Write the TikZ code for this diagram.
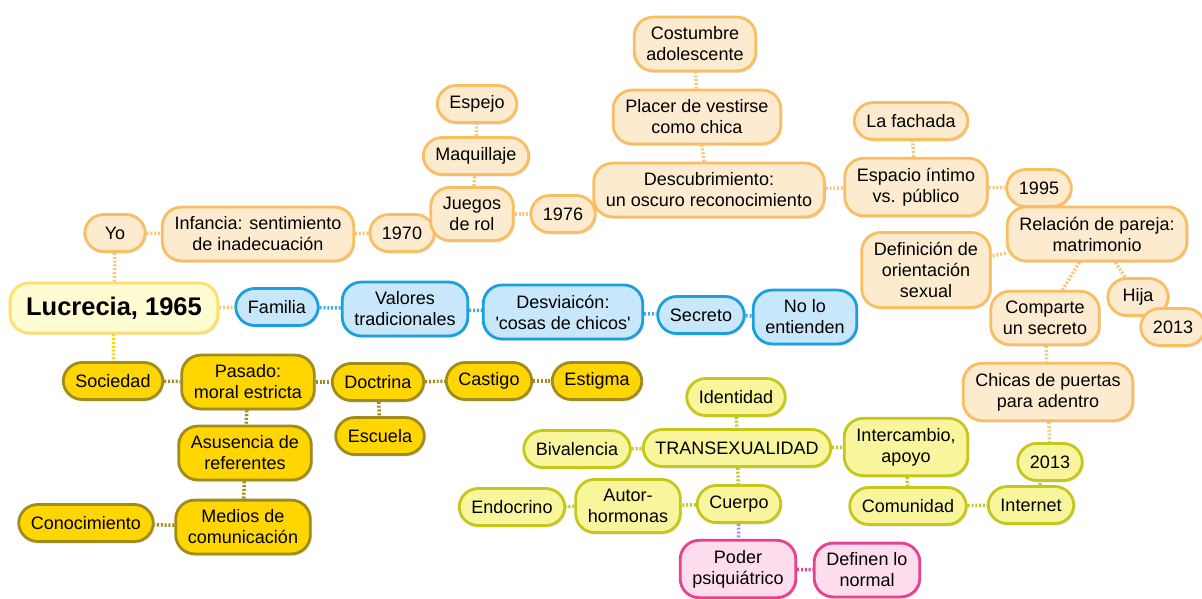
\documentclass[tikz,border=0pt]{standalone}
\usepackage{fontspec}
\setmainfont{Liberation Sans}
\usetikzlibrary{shadows}
\pgfdeclarelayer{fondo}
\pgfdeclarelayer{enlaces}
\pgfsetlayers{fondo,enlaces,main}

\begin{document}
			\begin{tikzpicture}[x=1pt,y=-1pt,
				nodo/.style={rounded corners=19pt,line width=2.8pt,align=center,inner xsep=12.3pt,inner ysep=9.8pt,
					minimum height=37pt,minimum width=60.5pt,font=\fontsize{18}{21}\selectfont,
					drop shadow={opacity=0.2,shadow xshift=1.5pt,shadow yshift=-2pt}},
				raiz/.style={nodo,draw=bordeluz,fill=fondoluz,inner xsep=16pt,minimum height=50pt,font=\fontsize{25.5}{28}\selectfont\bfseries},
				naranja/.style={nodo,draw=bordenaranja,fill=fondonaranja},
				azul/.style={nodo,draw=bordeazul,fill=fondoazul},
				oro/.style={nodo,draw=bordeoro,fill=fondooro},
				lima/.style={nodo,draw=bordelima,fill=fondolima},
				rosa/.style={nodo,draw=borderosa,fill=fondorosa},
				enlace/.style={line width=3.5pt,dash pattern=on 2pt off 1.8pt}]
				\definecolor{fondonaranja}{HTML}{FDEBD0}
				\definecolor{bordenaranja}{HTML}{F9BD62}
				\definecolor{fondoluz}{HTML}{FFFBD3}
				\definecolor{bordeluz}{HTML}{FFE066}
				\definecolor{fondoazul}{HTML}{C8E7FA}
				\definecolor{bordeazul}{HTML}{1C9FDE}
				\definecolor{fondooro}{HTML}{FFD600}
				\definecolor{bordeoro}{HTML}{A08C1A}
				\definecolor{fondolima}{HTML}{F8F59C}
				\definecolor{bordelima}{HTML}{C5C81A}
				\definecolor{fondorosa}{HTML}{FDDCEE}
				\definecolor{borderosa}{HTML}{E8418F}
				\definecolor{lila}{HTML}{B985E6}
				\begin{pgfonlayer}{fondo}
					\fill[white] (0,0) rectangle (1202,598);
				\end{pgfonlayer}
				\useasboundingbox (0,0) rectangle (1202,598);

				\node[raiz] (lucrecia) at (114,308) {Lucrecia, 1965};

				\node[naranja] (yo) at (115,233) {Yo};
				\node[naranja] (infancia) at (258,234) {Infancia: sentimiento\\de inadecuación};
				\node[naranja] (a1970) at (402,233) {1970};
				\node[naranja] (juegos) at (472,214) {Juegos\\de rol};
				\node[naranja] (maquillaje) at (476,156) {Maquillaje};
				\node[naranja] (espejo) at (477,104) {Espejo};
				\node[naranja] (a1976) at (563,214) {1976};
				\node[naranja] (descubrimiento) at (709,190) {Descubrimiento:\\un oscuro reconocimiento};
				\node[naranja] (placer) at (697,117) {Placer de vestirse\\como chica};
				\node[naranja] (costumbre) at (695,44) {Costumbre\\adolescente};
				\node[naranja] (espacio) at (916,187) {Espacio íntimo\\vs. público};
				\node[naranja] (fachada) at (911,121) {La fachada};
				\node[naranja] (a1995) at (1039,188) {1995};
				\node[naranja] (relacion) at (1097,234) {Relación de pareja:\\matrimonio};
				\node[naranja] (definicion) at (926,270) {Definición de\\orientación\\sexual};
				\node[naranja] (comparte) at (1045,318) {Comparte\\un secreto};
				\node[naranja] (hija) at (1138,297) {Hija};
				\node[naranja] (a2013a) at (1173,327) {2013};
				\node[naranja] (chicas) at (1048,392) {Chicas de puertas\\para adentro};

				\node[azul] (familia) at (277,307) {Familia};
				\node[azul] (valores) at (405,309) {Valores\\tradicionales};
				\node[azul] (desviacion) at (563,312) {Desviaicón:\\\textquotesingle cosas de chicos\textquotesingle};
				\node[azul] (secreto) at (701,315) {Secreto};
				\node[azul] (entienden) at (805,317) {No lo\\entienden};

				\node[oro] (sociedad) at (113,381) {Sociedad};
				\node[oro] (pasado) at (248,382) {Pasado:\\moral estricta};
				\node[oro] (doctrina) at (378,382) {Doctrina};
				\node[oro] (escuela) at (380,436) {Escuela};
				\node[oro] (castigo) at (489,381) {Castigo};
				\node[oro] (estigma) at (597,381) {Estigma};
				\node[oro] (ausencia) at (245,453) {Asusencia de\\referentes};
				\node[oro] (medios) at (243,527) {Medios de\\comunicación};
				\node[oro] (conocimiento) at (86,523) {Conocimiento};

				\node[lima] (identidad) at (736,397) {Identidad};
				\node[lima] (trans) at (737,448) {TRANSEXUALIDAD};
				\node[lima] (bivalencia) at (577,449) {Bivalencia};
				\node[lima] (intercambio) at (906,447) {Intercambio,\\apoyo};
				\node[lima] (comunidad) at (908,506) {Comunidad};
				\node[lima] (a2013b) at (1050,462) {2013};
				\node[lima] (internet) at (1031,505) {Internet};
				\node[lima] (cuerpo) at (739,504) {Cuerpo};
				\node[lima] (autor) at (628,506) {Autor-\\hormonas};
				\node[lima] (endocrino) at (512,507) {Endocrino};

				\node[rosa] (poder) at (738,569) {Poder\\psiquiátrico};
				\node[rosa] (definen) at (867,570) {Definen lo\\normal};

				\begin{pgfonlayer}{enlaces}
					\foreach \a/\b in {lucrecia/yo,yo/infancia,infancia/a1970,a1970/juegos,juegos/maquillaje,maquillaje/espejo,
						juegos/a1976,a1976/descubrimiento,descubrimiento/placer,placer/costumbre,descubrimiento/espacio,
						espacio/fachada,espacio/a1995,a1995/relacion,relacion/definicion,relacion/comparte,relacion/hija,
						hija/a2013a,comparte/chicas,chicas/a2013b,lucrecia/familia}
						\draw[enlace,bordenaranja!85!white] (\a) -- (\b);
					\foreach \a/\b in {familia/valores,valores/desviacion,desviacion/secreto,secreto/entienden}
						\draw[enlace,bordeazul!85!white] (\a) -- (\b);
					\draw[enlace,fondooro] (lucrecia) -- (sociedad);
					\foreach \a/\b in {sociedad/pasado,pasado/doctrina,doctrina/castigo,castigo/estigma,doctrina/escuela,
						pasado/ausencia,ausencia/medios,medios/conocimiento}
						\draw[enlace,bordeoro] (\a) -- (\b);
					\foreach \a/\b in {identidad/trans,bivalencia/trans,trans/intercambio,intercambio/comunidad,
						comunidad/internet,internet/a2013b,trans/cuerpo,cuerpo/autor,autor/endocrino}
						\draw[enlace,bordelima] (\a) -- (\b);
					\draw[enlace,lila] (cuerpo) -- (poder);
					\draw[enlace,borderosa] (poder) -- (definen);
				\end{pgfonlayer}
			\end{tikzpicture}
\end{document}
